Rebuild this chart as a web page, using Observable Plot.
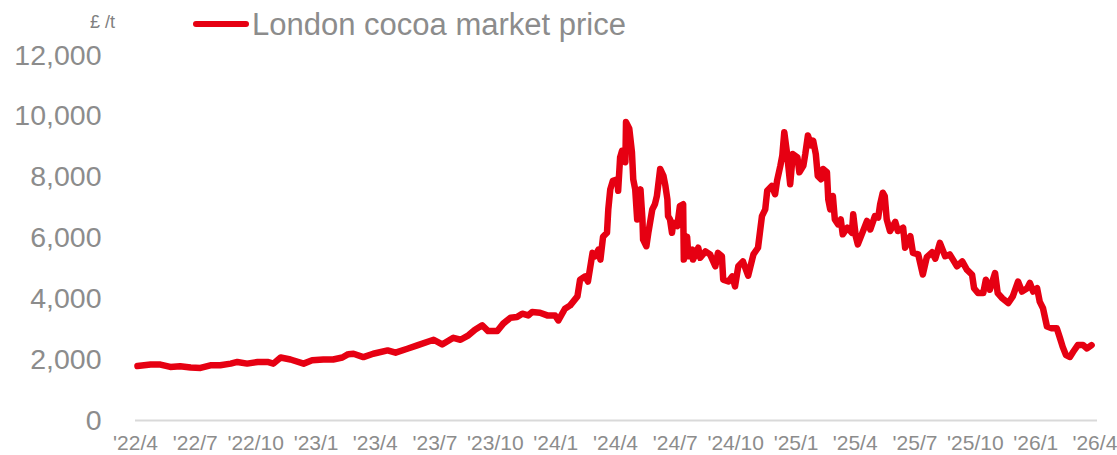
<!DOCTYPE html>
<html>
<head>
<meta charset="utf-8">
<script src="https://cdn.jsdelivr.net/npm/d3@7"></script>
<script src="https://cdn.jsdelivr.net/npm/@observablehq/plot@0.6"></script>
<style>
  html, body { margin: 0; padding: 0; background: #fff; }
  #wrap { position: relative; width: 1117px; height: 455px; font-family: "Liberation Sans", Arial, sans-serif; }
  #legend { position: absolute; left: 0; top: 0; }
</style>
</head>
<body>
<div id="wrap"></div>
<script>
const seriesName = "London cocoa market price";
const unitLabel = "£ /t";
const dates = ["2022-04-04","2022-04-24","2022-05-09","2022-05-24","2022-06-08","2022-06-24","2022-07-09","2022-07-24","2022-08-08","2022-08-24",
"2022-09-03","2022-09-18","2022-10-04","2022-10-19","2022-10-28","2022-11-08","2022-11-23","2022-12-13","2022-12-26","2023-01-12",
"2023-01-27","2023-02-10","2023-02-19","2023-02-27","2023-03-14","2023-03-29","2023-04-20","2023-05-02","2023-05-20","2023-06-04",
"2023-06-29","2023-07-12","2023-07-29","2023-08-09","2023-08-21","2023-08-31","2023-09-11","2023-09-20","2023-10-04","2023-10-13",
"2023-10-24","2023-11-03","2023-11-11","2023-11-20","2023-11-26","2023-12-08","2023-12-19","2023-12-31","2024-01-05","2024-01-15",
"2024-01-23","2024-02-03","2024-02-07",
"2024-02-15","2024-02-19","2024-02-26","2024-03-01","2024-03-06","2024-03-09","2024-03-13","2024-03-19","2024-03-21","2024-03-24",
"2024-03-28","2024-04-04","2024-04-05","2024-04-08","2024-04-11","2024-04-16","2024-04-17","2024-04-22","2024-04-26","2024-04-28",
"2024-05-01","2024-05-04","2024-05-06","2024-05-09","2024-05-12","2024-05-13","2024-05-18","2024-05-21","2024-05-27","2024-05-31",
"2024-06-03","2024-06-08","2024-06-13","2024-06-16","2024-06-19","2024-06-20","2024-06-23","2024-06-26","2024-06-28","2024-07-04",
"2024-07-08","2024-07-13","2024-07-14","2024-07-19","2024-07-21","2024-07-27","2024-07-28","2024-08-05","2024-08-08","2024-08-16",
"2024-08-23","2024-08-31","2024-09-04","2024-09-10","2024-09-12","2024-09-20","2024-09-26","2024-09-30","2024-10-05","2024-10-12",
"2024-10-20","2024-10-28","2024-11-04","2024-11-10","2024-11-15","2024-11-18","2024-11-25","2024-11-30","2024-12-03","2024-12-08",
"2024-12-11","2024-12-14","2024-12-18","2024-12-23","2024-12-27","2025-01-03","2025-01-06","2025-01-12","2025-01-15","2025-01-19",
"2025-01-24","2025-01-27","2025-01-31","2025-02-03","2025-02-08","2025-02-11","2025-02-17","2025-02-19","2025-02-22","2025-02-26",
"2025-03-01","2025-03-06","2025-03-10","2025-03-13","2025-03-20","2025-03-27","2025-03-29","2025-04-02","2025-04-05","2025-04-11",
"2025-04-19","2025-04-24","2025-05-01","2025-05-06","2025-05-09","2025-05-13","2025-05-16","2025-05-19","2025-05-24","2025-06-01",
"2025-06-05","2025-06-13","2025-06-16","2025-06-24","2025-06-28","2025-07-06","2025-07-13","2025-07-19","2025-07-27","2025-08-01",
"2025-08-08","2025-08-16","2025-08-23","2025-09-03","2025-09-11","2025-09-18","2025-09-26","2025-09-29","2025-10-05","2025-10-13",
"2025-10-17","2025-10-23","2025-10-31","2025-11-04","2025-11-11","2025-11-20","2025-11-27","2025-12-05","2025-12-11","2025-12-19",
"2025-12-23","2025-12-28","2026-01-03","2026-01-07","2026-01-12","2026-01-18","2026-01-26","2026-02-02","2026-02-07","2026-02-11",
"2026-02-16","2026-02-22","2026-02-27","2026-03-06","2026-03-14","2026-03-20","2026-03-27"];
const prices = [1790,1840,1840,1760,1785,1740,1730,1815,1815,1870,
1925,1870,1925,1925,1870,2070,2005,1870,1980,2005,
2005,2070,2180,2195,2085,2195,2305,2230,2360,2470,
2655,2500,2720,2655,2800,2985,3130,2940,2940,3185,
3380,3400,3510,3455,3565,3545,3455,3455,3290,3675,
3785,4080,4630,
4740,4570,5510,5400,5620,5290,6040,6170,6940,7600,
7880,7930,7550,8650,8870,8490,9810,9590,8820,7930,
7600,6610,7270,7600,6610,5950,5730,6170,6940,7110,
7380,8270,8040,7710,7270,6720,6610,6170,6500,6390,
7050,7110,5290,6040,5400,5620,5290,5680,5350,5560,
5460,5070,5510,5400,4630,4570,4740,4410,5070,5230,
4760,5460,5680,6720,6940,7550,7710,7440,7880,8370,
8710,9480,8820,7770,8760,8650,8160,8370,8760,9370,
9040,9200,8760,8040,7930,8270,8160,7270,6940,7380,
6610,6450,6610,6120,6340,6170,6780,6040,5790,6120,
6560,6280,6720,6670,7110,7490,7380,6610,6230,6530,
6230,6340,5680,6060,5510,5460,4800,5370,5530,5320,
5840,5400,5460,5070,5230,4960,4790,4350,4190,4190,
4630,4300,4850,4190,4020,3860,4080,4570,4240,4350,
4520,4240,4350,3910,3690,3090,3030,3030,2700,2420,
2150,2090,2260,2480,2480,2370,2480];
const xTicks = ["2022-04-01","2022-07-01","2022-10-01","2023-01-01","2023-04-01","2023-07-01","2023-10-01","2024-01-01","2024-04-01","2024-07-01","2024-10-01","2025-01-01","2025-04-01","2025-07-01","2025-10-01","2026-01-01","2026-04-01"];
const yTicks = [0, 2000, 4000, 6000, 8000, 10000, 12000];

const parse = d3.utcParse("%Y-%m-%d");
const data = dates.map((d, i) => ({date: parse(d), price: prices[i]}));
const tickDates = xTicks.map(parse);
const fmtX = d => "'" + String(d.getUTCFullYear()).slice(2) + "/" + (d.getUTCMonth() + 1);

const RED = "#e60012";
const GREY = "#8c8c8c";

const chart = Plot.plot({
  width: 1117,
  height: 455,
  marginLeft: 135,
  marginRight: 20,
  marginTop: 55,
  marginBottom: 35,
  style: {fontFamily: "'Liberation Sans', Arial, sans-serif", background: "#fff", overflow: "visible"},
  x: {type: "utc", domain: [parse("2022-04-01"), parse("2026-04-05")]},
  y: {domain: [0, 12000]},
  marks: [
    Plot.ruleY([0], {stroke: "#d9d9d9", strokeWidth: 2}),
    Plot.axisY({ticks: yTicks, tickFormat: d3.format(","), tickSize: 0, tickPadding: 34, fontSize: 28.5, color: GREY, label: null}),
    Plot.axisX({ticks: tickDates, tickFormat: fmtX, tickSize: 0, tickPadding: 15, fontSize: 21, color: GREY, label: null}),
    Plot.line(data, {x: "date", y: "price", stroke: RED, strokeWidth: 6.5, strokeLinejoin: "round", strokeLinecap: "round"})
  ]
});

const wrap = document.getElementById("wrap");
wrap.appendChild(chart);

// legend + unit overlay
const leg = d3.create("svg").attr("id", "legend").attr("width", 700).attr("height", 45)
  .style("font-family", "'Liberation Sans', Arial, sans-serif");
leg.append("text").attr("x", 115).attr("y", 28).attr("text-anchor", "end")
  .attr("font-size", 18).attr("fill", "#808080").text(unitLabel);
leg.append("line").attr("x1", 196).attr("x2", 246).attr("y1", 24).attr("y2", 24)
  .attr("stroke", RED).attr("stroke-width", 6).attr("stroke-linecap", "round");
leg.append("text").attr("x", 252).attr("y", 35)
  .attr("font-size", 31).attr("fill", GREY).text(seriesName);
wrap.appendChild(leg.node());
</script>
</body>
</html>
